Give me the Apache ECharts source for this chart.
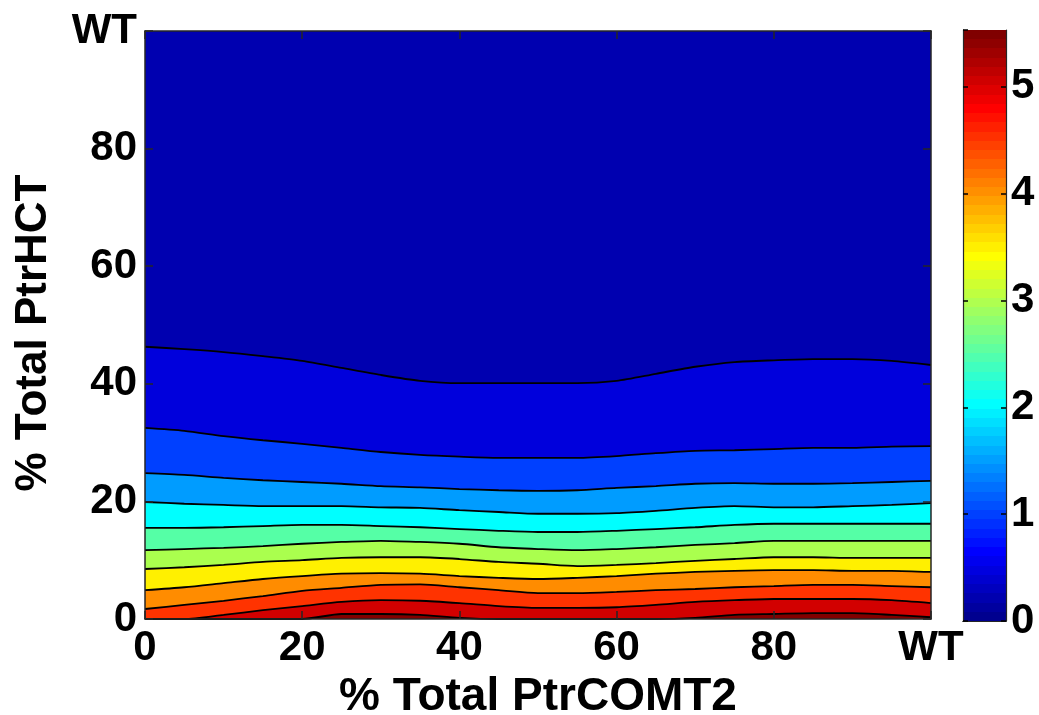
<!DOCTYPE html>
<html><head><meta charset="utf-8">
<script src="https://cdn.jsdelivr.net/npm/echarts@6/dist/echarts.min.js"></script>
<style>html,body{margin:0;padding:0;background:#fff}#c{width:1039px;height:715px}</style>
</head><body><div id="c"></div>
<script>
// ---------------- DATA ----------------
// x positions (% Total PtrCOMT2, 100 = WT) where contour heights were read
const xPercentCOMT2 = [0,5,10,15,20,25,30,35,40,45,50,55,60,65,70,75,80,85,90,95,100];
// contour levels (fold change)
const contourLevels = [0.5,1.0,1.5,2.0,2.5,3.0,3.5,4.0,4.5,5.0,5.5];
// y (% Total PtrHCT) of each contour line at the x positions above
const contour05 = [46.3,45.9,45.4,44.7,43.9,42.7,41.5,40.5,40.1,40.1,40.1,40.1,40.5,41.7,42.9,43.7,44.0,44.2,44.2,43.9,43.2];
const contour10 = [32.5,32.0,31.1,30.4,29.8,29.1,28.4,27.9,27.6,27.4,27.4,27.4,27.7,28.2,28.6,28.7,28.9,29.1,29.1,29.3,29.4];
const contour15 = [24.8,24.5,24.0,23.6,23.3,23.0,22.6,22.4,22.1,21.9,21.8,21.9,22.3,22.6,23.0,23.1,23.0,23.0,23.1,23.3,23.5];
const contour20 = [19.9,19.6,19.4,19.2,19.2,19.2,19.0,18.9,18.5,18.2,17.9,17.9,18.0,18.4,18.9,19.2,19.0,19.0,19.2,19.4,19.7];
const contour25 = [15.5,15.5,15.6,15.8,16.0,16.0,15.8,15.6,15.3,15.0,14.8,14.8,15.0,15.3,15.6,16.0,16.2,16.2,16.2,16.2,16.2];
const contour30 = [11.7,11.9,12.1,12.4,12.8,13.1,13.3,13.1,12.8,12.2,11.9,11.7,11.9,12.2,12.6,12.9,13.3,13.3,13.3,13.3,13.3];
const contour35 = [8.5,8.8,9.2,9.7,10.0,10.4,10.5,10.5,10.2,9.7,9.4,9.0,9.2,9.5,9.9,10.2,10.5,10.5,10.4,10.4,10.4];
const contour40 = [4.9,5.4,6.1,6.8,7.3,7.7,7.8,7.7,7.3,7.0,6.8,7.0,7.3,7.7,8.0,8.2,8.3,8.3,8.2,8.2,8.0];
const contour45 = [1.7,2.4,3.1,3.9,4.8,5.3,5.8,5.9,5.4,4.9,4.4,4.4,4.6,4.9,5.1,5.4,5.6,5.8,5.8,5.6,5.4];
const contour50 = [0,0,0.7,1.5,2.2,2.9,3.2,3.1,2.7,2.2,1.9,1.9,2.0,2.4,2.9,3.2,3.4,3.4,3.4,3.2,2.7];
const contour55 = [0,0,0,0,0,0.85,0.85,0.7,0.2,0,0,0,0,0,0.2,0.7,0.85,1.0,1.0,0.7,0.3];
const contourLines = [contour05,contour10,contour15,contour20,contour25,contour30,contour35,contour40,contour45,contour50,contour55];

const xTickValues = [0,20,40,60,80,100];
const xTickLabels = ['0','20','40','60','80','WT'];
const yTickValues = [0,20,40,60,80,100];
const yTickLabels = ['0','20','40','60','80','WT'];
const colorbarMin = 0, colorbarMax = 5.53;
const colorbarTicks = [0,1,2,3,4,5];

// ---------------- STYLE ----------------
const topBandColor = '#0000B0';
const bandColors = ['#0000DC','#0040FF','#009CFF','#00FFFF','#55FFA6','#AAFF4E','#FFF000','#FF8C00','#FF3300','#D20000','#820000'];
const FONT = '"Liberation Sans", Arial, Helvetica, sans-serif';
const axisColor = '#262626';

function jet(m){
  const n = Math.ceil(m/4);
  const u = [];
  for(let i=1;i<=n;i++) u.push(i/n);
  for(let i=1;i<n;i++) u.push(1);
  for(let i=n;i>=1;i--) u.push(i/n);
  const g0 = Math.ceil(n/2) - (m%4===1?1:0);
  const J = Array.from({length:m},()=>[0,0,0]);
  u.forEach((v,k)=>{
    const g = g0 + k + 1, r = g + n, b = g - n;
    if(r>=1 && r<=m) J[r-1][0]=v;
    if(g>=1 && g<=m) J[g-1][1]=v;
    if(b>=1 && b<=m) J[b-1][2]=v;
  });
  return J.map(c=>'rgb('+c.map(v=>Math.round(v*255)).join(',')+')');
}
const cmap = jet(64);
const stops = [];
cmap.forEach((c,i)=>{ stops.push({offset:i/64,color:c}); stops.push({offset:(i+1)/64,color:c}); });

const chart = echarts.init(document.getElementById('c'), null, {renderer:'canvas'});

const labelStyle = {color:'#000', fontSize:42, fontWeight:'bold', fontFamily:FONT};
function fmtX(v){ const i = xTickValues.indexOf(v); return i>=0 ? xTickLabels[i] : ''; }
function fmtY(v){ const i = yTickValues.indexOf(v); return i>=0 ? yTickLabels[i] : ''; }

const series = contourLines.map((ys,k)=>({
  type:'line', xAxisIndex:0, yAxisIndex:0,
  name:'level '+contourLevels[k],
  data: xPercentCOMT2.map((x,j)=>[x, ys[j]]),
  smooth:0.25, showSymbol:false, silent:true, clip:true,
  lineStyle:{color:'#000', width:1.8},
  areaStyle:{color:bandColors[k], opacity:1, origin:'start'},
  z:2
}));
series.push({
  type:'bar', xAxisIndex:2, yAxisIndex:2, barWidth:'100%', silent:true,
  data:[colorbarMax],
  itemStyle:{color:new echarts.graphic.LinearGradient(0,1,0,0,stops)},
  z:2
});

const mainAxisLine = {show:true, onZero:false, lineStyle:{color:axisColor, width:1.5}};
const option = {
  animation:false,
  backgroundColor:'#fff',
  grid:[
    {left:145, top:31, width:786, height:588, show:true, backgroundColor:topBandColor, borderWidth:0, containLabel:false, outerBoundsMode:'none'},
    {left:963, top:30, width:43, height:591, show:false, containLabel:false, outerBoundsMode:'none'}
  ],
  xAxis:[
    {type:'value', gridIndex:0, min:0, max:100, interval:20, position:'bottom',
     axisLine:mainAxisLine, axisTick:{show:true, inside:true, length:8, lineStyle:{color:axisColor, width:1.5}},
     splitLine:{show:false}, axisLabel:Object.assign({margin:8, formatter:fmtX, showMinLabel:true, showMaxLabel:true}, labelStyle),
     name:'% Total PtrCOMT2', nameLocation:'middle', nameGap:55,
     nameTextStyle:{color:'#000', fontSize:46, fontWeight:'bold', fontFamily:FONT}, z:5},
    {type:'value', gridIndex:0, min:0, max:100, interval:20, position:'top',
     axisLine:mainAxisLine, axisTick:{show:true, inside:true, length:8, lineStyle:{color:axisColor, width:1.5}},
     splitLine:{show:false}, axisLabel:{show:false}, z:5},
    {type:'category', gridIndex:1, data:['cb'], position:'bottom',
     axisLine:{show:true, lineStyle:{color:axisColor, width:1.2}}, axisTick:{show:false}, axisLabel:{show:false}, z:5},
    {type:'category', gridIndex:1, data:['cb'], position:'top',
     axisLine:{show:true, lineStyle:{color:axisColor, width:1.2}}, axisTick:{show:false}, axisLabel:{show:false}, z:5}
  ],
  yAxis:[
    {type:'value', gridIndex:0, min:0, max:100, interval:20, position:'left',
     axisLine:mainAxisLine, axisTick:{show:true, inside:true, length:8, lineStyle:{color:axisColor, width:1.5}},
     splitLine:{show:false}, axisLabel:Object.assign({margin:8, formatter:fmtY, showMinLabel:true, showMaxLabel:true}, labelStyle),
     name:'% Total PtrHCT', nameLocation:'middle', nameGap:89, nameRotate:90,
     nameTextStyle:{color:'#000', fontSize:44, fontWeight:'bold', fontFamily:FONT, padding:[0,16,0,0]}, z:5},
    {type:'value', gridIndex:0, min:0, max:100, interval:20, position:'right',
     axisLine:mainAxisLine, axisTick:{show:true, inside:true, length:8, lineStyle:{color:axisColor, width:1.5}},
     splitLine:{show:false}, axisLabel:{show:false}, z:5},
    {type:'value', gridIndex:1, min:colorbarMin, max:colorbarMax, interval:1, position:'right',
     axisLine:{show:true, onZero:false, lineStyle:{color:axisColor, width:1.2}},
     axisTick:{show:true, inside:true, length:5, lineStyle:{color:'#000', width:1.5}},
     splitLine:{show:false},
     axisLabel:Object.assign({margin:5, showMaxLabel:false, formatter:v=>colorbarTicks.indexOf(v)>=0?String(v):''}, labelStyle), z:5},
    {type:'value', gridIndex:1, min:colorbarMin, max:colorbarMax, interval:1, position:'left',
     axisLine:{show:true, onZero:false, lineStyle:{color:axisColor, width:1.2}},
     axisTick:{show:true, inside:true, length:5, lineStyle:{color:'#000', width:1.5}},
     splitLine:{show:false}, axisLabel:{show:false}, z:5}
  ],
  series:series
};
chart.setOption(option);
</script>
</body></html>
